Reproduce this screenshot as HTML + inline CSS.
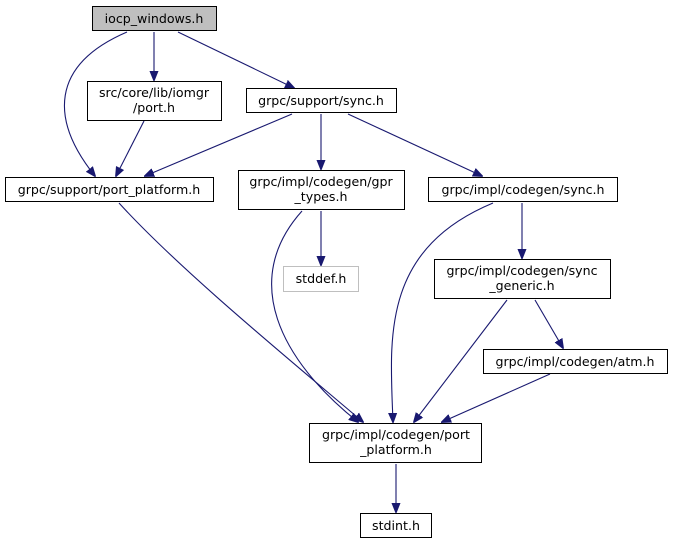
<!DOCTYPE html>
<html><head><meta charset="utf-8"><style>body{margin:0;background:#fff}svg{display:block}</style></head><body>
<svg width="673" height="544" viewBox="0 0 673 544" xmlns="http://www.w3.org/2000/svg" font-family="DejaVu Sans, Liberation Sans, sans-serif" font-size="12.6">
<defs><marker id="a" markerWidth="10" markerHeight="10" refX="9" refY="5" orient="auto" markerUnits="userSpaceOnUse"><path d="M0,1 L10,5 L0,9 Z" fill="#191970" stroke="#191970"/></marker></defs>
<g fill="none" stroke="#191970" stroke-width="1.1" marker-end="url(#a)">
<path d="M127,32 C50,65 50,120 95,176"/>
<path d="M154,32 L154,80"/>
<path d="M178,32 L294,88"/>
<path d="M144,121 L116,176"/>
<path d="M292,114 L145,176"/>
<path d="M321,114 L321,169"/>
<path d="M348,114 L482,176"/>
<path d="M321,211 L321,265"/>
<path d="M119,203 C180,270 290,360 363,422"/>
<path d="M302,211 C240,280 280,360 358,422"/>
<path d="M493,203 C380,250 390,340 393,422"/>
<path d="M522,203 L522,258"/>
<path d="M507,300 L414,422"/>
<path d="M535,300 L563,348"/>
<path d="M550,374 L442,422"/>
<path d="M396,464 L396,512"/>
</g>
<g stroke-width="1" text-anchor="middle" fill="#000">
<rect x="92.5" y="6.5" width="124" height="24" fill="#bfbfbf" stroke="#000"/><text x="154" y="23">iocp_windows.h</text>
<rect x="87.5" y="81.5" width="134" height="39" fill="#fff" stroke="#000"/><text x="154" y="97">src/core/lib/iomgr</text><text x="154" y="112">/port.h</text>
<rect x="246.5" y="88.5" width="150" height="24" fill="#fff" stroke="#000"/><text x="321" y="105">grpc/support/sync.h</text>
<rect x="5.5" y="177.5" width="208" height="24" fill="#fff" stroke="#000"/><text x="109" y="194">grpc/support/port_platform.h</text>
<rect x="238.5" y="170.5" width="166" height="39" fill="#fff" stroke="#000"/><text x="321" y="186">grpc/impl/codegen/gpr</text><text x="321" y="201">_types.h</text>
<rect x="428.5" y="177.5" width="189" height="24" fill="#fff" stroke="#000"/><text x="523" y="194">grpc/impl/codegen/sync.h</text>
<rect x="283.5" y="266.5" width="75" height="25" fill="#fff" stroke="#bfbfbf"/><text x="321" y="283">stddef.h</text>
<rect x="434.5" y="259.5" width="176" height="39" fill="#fff" stroke="#000"/><text x="522" y="275">grpc/impl/codegen/sync</text><text x="522" y="290">_generic.h</text>
<rect x="483.5" y="349.5" width="184" height="24" fill="#fff" stroke="#000"/><text x="575" y="366">grpc/impl/codegen/atm.h</text>
<rect x="309.5" y="423.5" width="172" height="39" fill="#fff" stroke="#000"/><text x="396" y="439">grpc/impl/codegen/port</text><text x="396" y="454">_platform.h</text>
<rect x="360.5" y="513.5" width="71" height="24" fill="#fff" stroke="#000"/><text x="396" y="530">stdint.h</text>
</g>
</svg>
</body></html>
